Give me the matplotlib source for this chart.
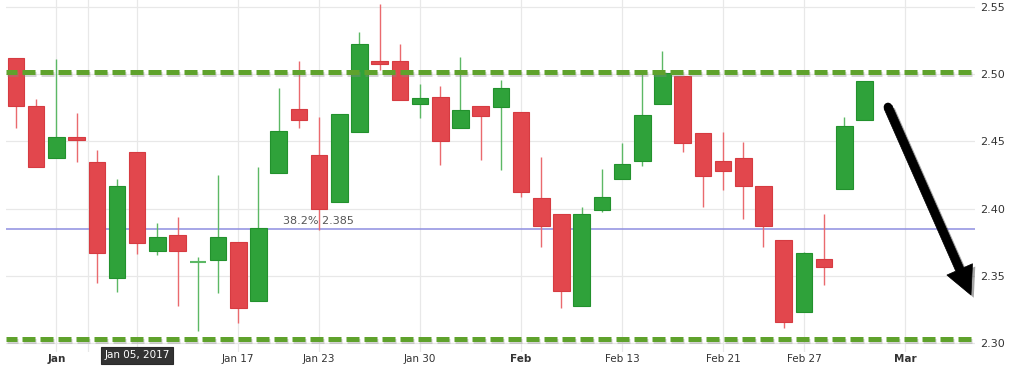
import matplotlib
matplotlib.use("Agg")
import matplotlib.pyplot as plt
import matplotlib.patheffects as pe
from matplotlib.patches import Polygon, Ellipse
import numpy as np

# ---- data ----
opens  = [2.5118, 2.4763, 2.4376, 2.4535, 2.4344, 2.3486, 2.4421, 2.3687, 2.3806, 2.3600,
          2.3618, 2.3754, 2.3315, 2.4265, 2.4739, 2.4401, 2.4049, 2.4567, 2.5096, 2.5096,
          2.4778, 2.4833, 2.4602, 2.4761, 2.4758, 2.4716, 2.4079, 2.3962, 2.3278, 2.3990,
          2.4220, 2.4352, 2.4778, 2.4987, 2.4565, 2.4357, 2.4376, 2.4168, 2.3769, 2.3231,
          2.3623, 2.4143, 2.4659]
closes = [2.4763, 2.4307, 2.4535, 2.4510, 2.3667, 2.4171, 2.3747, 2.3786, 2.3687, 2.3600,
          2.3791, 2.3258, 2.3858, 2.4580, 2.4659, 2.3997, 2.4704, 2.5222, 2.5076, 2.4806,
          2.4820, 2.4503, 2.4736, 2.4687, 2.4900, 2.4121, 2.3873, 2.3387, 2.3962, 2.4086,
          2.4334, 2.4696, 2.5009, 2.4491, 2.4243, 2.4277, 2.4168, 2.3873, 2.3159, 2.3667,
          2.3565, 2.4617, 2.4952]
highs  = [2.5118, 2.4818, 2.5113, 2.4714, 2.4438, 2.4220, 2.4421, 2.3895, 2.3935, 2.3637,
          2.4250, 2.3754, 2.4307, 2.4897, 2.5101, 2.4679, 2.4704, 2.5312, 2.5522, 2.5227,
          2.4930, 2.4910, 2.5130, 2.4761, 2.4957, 2.4716, 2.4381, 2.3962, 2.4009, 2.4292,
          2.4491, 2.5001, 2.5173, 2.4987, 2.4565, 2.4567, 2.4496, 2.4168, 2.3769, 2.3675,
          2.3960, 2.4682, 2.4952]
lows   = [2.4597, 2.4307, 2.4376, 2.4344, 2.3449, 2.3382, 2.3660, 2.3657, 2.3278, 2.3092,
          2.3370, 2.3151, 2.3315, 2.4265, 2.4602, 2.3841, 2.4049, 2.4567, 2.5031, 2.4806,
          2.4672, 2.4322, 2.4602, 2.4359, 2.4287, 2.4084, 2.3717, 2.3258, 2.3278, 2.3972,
          2.4220, 2.4317, 2.4778, 2.4419, 2.4014, 2.4138, 2.3923, 2.3712, 2.3109, 2.3231,
          2.3432, 2.4143, 2.4659]

tick_pos    = [2, 11, 15, 20, 25, 30, 35, 39, 44]
tick_labels = ['Jan', 'Jan 17', 'Jan 23', 'Jan 30', 'Feb', 'Feb 13', 'Feb 21', 'Feb 27', 'Mar']
bold_labels = ['Jan', 'Feb', 'Mar']
extra_grid  = [3.55, 6]
y_ticks     = [2.30, 2.35, 2.40, 2.45, 2.50, 2.55]

resistance = 2.502
support    = 2.303
fib_level  = 2.385
fib_label  = '38.2% 2.385'
tooltip    = 'Jan 05, 2017'

# ---- figure ----
W, H = 1024, 373
fig = plt.figure(figsize=(W/100, H/100), dpi=100)
ax = fig.add_axes([6/W, (H-352)/H, (975-6)/W, 352/H])
ax.set_xlim(-0.495, 47.47)
ax.set_ylim(2.2933, 2.5552)
for s in ax.spines.values():
    s.set_visible(False)

grid_c = '#e8e8e8'
for yv in y_ticks:
    ax.axhline(yv, color=grid_c, lw=0.9, zorder=0)
for xv in tick_pos + extra_grid:
    ax.axvline(xv, color=grid_c, lw=0.9, zorder=0)

red_body, red_edge = '#e2474d', '#d63b41'
grn_body, grn_edge = '#2fa23a', '#22912d'
red_wick, grn_wick = '#ea6a6e', '#5cb865'

x = np.arange(len(opens))
o = np.array(opens); c = np.array(closes); h = np.array(highs); l = np.array(lows)
up = c >= o
bw = 0.82
for i in x:
    wc = grn_wick if up[i] else red_wick
    ax.vlines(i, l[i], h[i], color=wc, lw=1.0, zorder=2)
    bot = min(o[i], c[i]); ht = max(abs(c[i]-o[i]), 0.0008)
    if o[i] == c[i]:
        ax.hlines(o[i], i-bw/2, i+bw/2, color=wc, lw=1.5, zorder=3)
    else:
        ax.bar(i, ht, bottom=bot, width=bw,
               color=grn_body if up[i] else red_body,
               edgecolor=grn_edge if up[i] else red_edge, lw=0.8, zorder=3)

# fib line
ax.axhline(fib_level, color='#8e8ee0', lw=1.1, zorder=1)
ax.text(13.2, fib_level + 0.0018, fib_label, fontsize=8, color='#555555',
        ha='left', va='bottom', zorder=5)

# dashed support / resistance
shadow = [pe.SimpleLineShadow(offset=(0.5, -1.5), shadow_color='#888888', alpha=0.35), pe.Normal()]
for lvl in (resistance, support):
    ax.axhline(lvl, color='#5fa22c', lw=3.6, linestyle=(0.4, (2.6, 1.0)),
               solid_capstyle='butt', dash_capstyle='butt', zorder=4, path_effects=shadow)

# ticks
ax.yaxis.tick_right()
ax.set_yticks(y_ticks)
ax.set_yticklabels([f'{v:.2f}' for v in y_ticks])
ax.tick_params(axis='y', length=0, pad=4, labelsize=8, labelcolor='#333333')
ax.set_xticks(tick_pos)
ax.set_xticklabels(tick_labels)
ax.tick_params(axis='x', length=0, pad=1.5, labelsize=7.5, labelcolor='#333333')
for t in ax.get_xticklabels():
    if t.get_text() in bold_labels:
        t.set_fontweight('bold')

# tooltip box
fig.text(137/W, (H-355.5)/H, tooltip, fontsize=7.5, color='white', ha='center', va='center',
         bbox=dict(boxstyle='square,pad=0.35', fc='#333333', ec='#2a2a2a', lw=0.8), zorder=10)

# arrow (figure pixel coords, y from bottom)
sx, sy = 888, H-107
tx, ty = 971, H-295
d = np.array([tx-sx, ty-sy], float); L = np.hypot(*d); u = d/L; n = np.array([-u[1], u[0]])
head_len, head_w, shaft_w = 28, 14, 4.3
base = np.array([tx, ty]) - u*head_len
pts = [np.array([sx, sy]) + n*shaft_w, base + n*shaft_w, base + n*head_w, np.array([tx, ty]),
       base - n*head_w, base - n*shaft_w, np.array([sx, sy]) - n*shaft_w]
pts = np.array(pts) / np.array([W, H])
arrow = Polygon(pts, closed=True, transform=fig.transFigure, fc='black', ec='black', lw=0.5,
                zorder=10, path_effects=[pe.SimplePatchShadow(offset=(2, -2), alpha=0.35), pe.Normal()])
fig.patches.append(arrow)
fig.patches.append(Ellipse((sx/W, sy/H), 2*shaft_w/W, 2*shaft_w/H, transform=fig.transFigure,
                           fc='black', ec='none', zorder=10))

fig.savefig('out.png', dpi=100)
